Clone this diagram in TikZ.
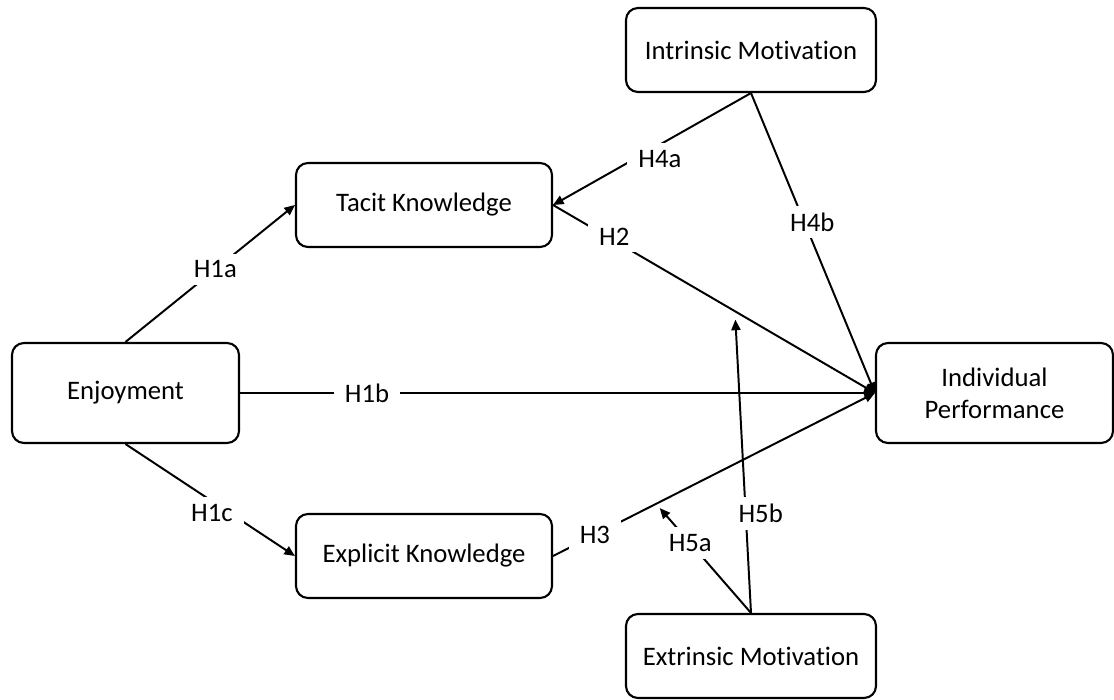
\documentclass[tikz,border=0pt]{standalone}
\usepackage{fontspec}
\setmainfont{Carlito}[Ligatures=NoCommon]
\usetikzlibrary{arrows.meta}

\begin{document}
\begin{tikzpicture}[
  >={Triangle[length=7.5pt,width=6.5pt]},
  box/.style={draw, line width=1.5pt, rounded corners=8.5pt, align=center, font=\fontsize{19}{23}\selectfont, inner sep=0pt},
  motB/.style={box, minimum width=6.25cm, minimum height=2.1cm},
  knowB/.style={box, minimum width=6.4cm, minimum height=2.1cm},
  endB/.style={box, minimum height=2.5cm},
  arr/.style={->, line width=1.4pt},
  lbl/.style={fill=white, inner xsep=8pt, inner ysep=5pt, font=\fontsize{19}{23}\selectfont}
]
\useasboundingbox (0,0) rectangle (27.85,-17.5);
\node[motB] (im) at (18.775,-1.25) {Intrinsic Motivation};
\node[knowB] (tk) at (10.6,-5.125) {Tacit Knowledge};
\node[endB, minimum width=5.675cm] (en) at (3.1375,-9.825) {Enjoyment};
\node[endB, minimum width=5.925cm] (ip) at (24.8625,-9.825) {Individual\\Performance};
\node[knowB] (ek) at (10.6,-13.9) {Explicit Knowledge};
\node[motB] (em) at (18.775,-16.4) {Extrinsic Motivation};

\draw[arr] (en.north) -- node[lbl, pos=0.53]{H1a} (tk.west);
\draw[arr] (en.east) -- node[lbl, pos=0.2]{H1b} (ip.west);
\draw[arr] (en.south) -- node[lbl, pos=0.51, yshift=-0.3cm]{H1c} (ek.west);
\draw[arr] (tk.east) -- node[lbl, pos=0.19, yshift=0.1cm]{H2} coordinate[pos=0.565] (h2) (ip.west);
\draw[arr] (ek.east) -- node[lbl, pos=0.13]{H3} coordinate[pos=0.32] (h3) (ip.west);
\draw[arr] (im.south) -- node[lbl, pos=0.46, yshift=-0.35cm]{H4a} (tk.east);
\draw[arr] (im.south) -- node[lbl, pos=0.43, xshift=0.2cm]{H4b} (ip.west);
\draw[arr, shorten >=4pt] (em.north) -- node[lbl, pos=0.64]{H5a} (h3);
\draw[arr, shorten >=6pt] (em.north) -- node[lbl, pos=0.33, xshift=0.375cm]{H5b} (h2);
\end{tikzpicture}
\end{document}
